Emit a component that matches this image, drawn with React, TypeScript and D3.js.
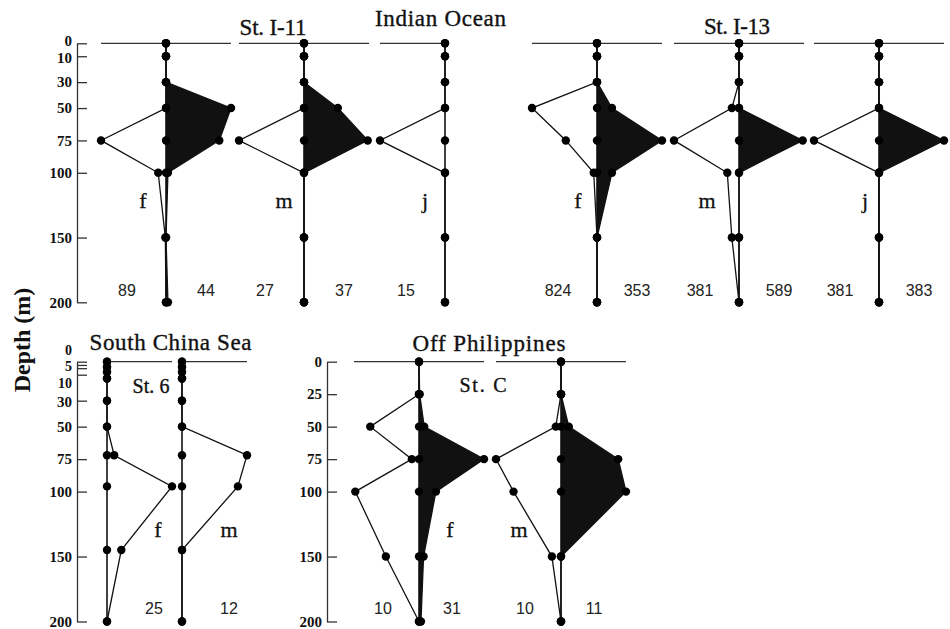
import React, { useRef, useEffect } from "react";
import * as d3 from "d3";

// sampling depths (m)
const indianDepths = [0, 10, 30, 50, 75, 100, 150, 200];
const scsDepths = [0, 4, 8, 13, 30, 50, 72, 96, 145, 200];
const philDepths = [0, 25, 50, 75, 100, 150, 200];

// depth axis ticks
const indianTicks = [0, 10, 30, 50, 75, 100, 150, 200];
const scsTicks = [0, 2.5, 5, 10, 30, 50, 75, 100, 150, 200];
const scsTickLabels = ["0", "", "5", "10", "30", "50", "75", "100", "150", "200"];
const philTicks = [0, 25, 50, 75, 100, 150, 200];

// relative abundance at each depth (% of profile maximum)
// left = open profile, right = filled profile
const i11fLeft = [0, 0, 0, 0, 100, 12, 1, 0];
const i11fRight = [0, 0, 0, 100, 82, 3, 0, 3];
const i11mLeft = [0, 0, 0, 0, 100, 0, 0, 0];
const i11mRight = [0, 0, 0, 52, 98, 0, 0, 0];
const i11jLeft = [0, 0, 0, 0, 100, 0, 0, 0];

const i13fLeft = [0, 0, 0, 100, 48, 5, 0, 0];
const i13fRight = [0, 0, 0, 23, 100, 23, 0, 0];
const i13mLeft = [0, 0, 0, 11, 100, 18, 11, 0];
const i13mRight = [0, 0, 0, 0, 98, 0, 0, 0];
const i13jLeft = [0, 0, 0, 0, 100, 0, 0, 0];
const i13jRight = [0, 0, 0, 0, 100, 0, 0, 0];

const scsfRight = [0, 0, 0, 0, 0, 0, 11, 100, 22, 0];
const scsmRight = [0, 0, 0, 0, 0, 0, 100, 86, 0, 0];

const opfLeft = [0, 0, 75, 11, 98, 51, 0];
const opfRight = [0, 1, 8, 100, 26, 7, 3];
const opmLeft = [0, 0, 8, 100, 73, 14, 0];
const opmRight = [0, 0, 12, 88, 100, 0, 0];

// stage letters and numbers of individuals
const indianStages = ["f", "m", "j", "f", "m", "j"];
const indianLeftN = ["89", "27", "15", "824", "381", "381"];
const indianRightN = ["44", "37", "", "353", "589", "383"];
const scsStages = ["f", "m"];
const scsRightN = ["25", "12"];
const philStages = ["f", "m"];
const philLeftN = ["10", "10"];
const philRightN = ["31", "11"];

const App = () => {
  const svgRef = useRef<SVGSVGElement>(null);

  useEffect(() => {
    const svg = d3.select(svgRef.current);
    svg.selectAll("*").remove();

    const serif = "'Liberation Serif', 'Times New Roman', serif";
    const sans = "'Liberation Sans', Arial, sans-serif";
    const half = 65;
    const w = d3.scaleLinear().domain([0, 100]).range([0, half]);

    const yTop = d3.scaleLinear().domain([0, 200]).range([43.3, 302.3]);
    const yBot = d3.scaleLinear().domain([0, 200]).range([361.7, 621.5]);

    const drawAxis = (x: number, y: any, ticks: number[], labels: string[], nudge: number[], crowded = 0) => {
      const g = svg.append("g")
        .attr("transform", `translate(${x},0)`)
        .call(d3.axisLeft(y).tickValues(ticks)
          .tickFormat((d: any, i: number) => labels[i])
          .tickSizeInner(-10).tickSizeOuter(0).tickPadding(5) as any);
      g.attr("font-family", serif).attr("font-size", 15).attr("font-weight", "bold");
      g.select(".domain").attr("stroke", "#333").attr("stroke-width", 1.3);
      g.selectAll(".tick line").attr("stroke", "#333").attr("stroke-width", 1.3);
      g.selectAll(".tick text").attr("fill", "#111")
        .attr("y", (d: any, i: number) => nudge[i] || 0)
        .attr("font-size", (d: any, i: number) => (i < crowded ? 14 : 15));
    };

    drawAxis(77, yTop, indianTicks, indianTicks.map(String), [-2.5, 1]);
    drawAxis(77, yBot, scsTicks, scsTickLabels, [-11.5, 0, -2, 8, 1.5], 4);
    drawAxis(327, yBot, philTicks, philTicks.map(String), []);

    const drawKite = (
      cx: number, y: any, depths: number[],
      left: number[] | null, right: number[] | null, fillRight: boolean
    ) => {
      const g = svg.append("g");
      // sea surface line
      g.append("line")
        .attr("x1", left ? cx - half : cx).attr("x2", right ? cx + half : cx)
        .attr("y1", y(0)).attr("y2", y(0))
        .attr("stroke", "#333").attr("stroke-width", 1.3);

      if (right && fillRight) {
        const area = d3.area<number>()
          .x0(cx)
          .x1(v => cx + w(v))
          .y((v, i) => y(depths[i]));
        g.append("path").datum(right).attr("d", area).attr("fill", "#111");
      }

      // centre line
      g.append("line")
        .attr("x1", cx).attr("x2", cx)
        .attr("y1", y(0)).attr("y2", y(200))
        .attr("stroke", "#111").attr("stroke-width", 1.6);

      const lineL = d3.line<number>().x(v => cx - w(v)).y((v, i) => y(depths[i]));
      const lineR = d3.line<number>().x(v => cx + w(v)).y((v, i) => y(depths[i]));
      if (left) {
        g.append("path").datum(left).attr("d", lineL)
          .attr("fill", "none").attr("stroke", "#111").attr("stroke-width", 1.3);
      }
      if (right) {
        g.append("path").datum(right).attr("d", lineR)
          .attr("fill", "none").attr("stroke", "#111").attr("stroke-width", 1.3);
      }

      const pts: [number, number][] = depths.map(d => [cx, y(d)]);
      if (left) left.forEach((v, i) => pts.push([cx - w(v), y(depths[i])]));
      if (right) right.forEach((v, i) => pts.push([cx + w(v), y(depths[i])]));
      g.selectAll("circle.dot").data(pts).enter().append("circle")
        .attr("class", "dot")
        .attr("cx", p => p[0]).attr("cy", p => p[1]).attr("r", 4.2)
        .attr("fill", "#000");
    };

    const letter = (x: number, y: number, t: string) =>
      svg.append("text").attr("x", x).attr("y", y).attr("text-anchor", "middle")
        .attr("font-family", serif).attr("font-size", 22).attr("fill", "#111")
        .attr("stroke", "#111").attr("stroke-width", 0.3).text(t);
    const count = (x: number, y: number, t: string) =>
      svg.append("text").attr("x", x).attr("y", y).attr("text-anchor", "middle")
        .attr("font-family", sans).attr("font-size", 16).attr("fill", "#222").text(t);
    const title = (x: number, y: number, t: string, size: number, len: number) =>
      svg.append("text").attr("x", x).attr("y", y).attr("text-anchor", "middle")
        .attr("font-family", serif).attr("font-size", size).attr("fill", "#111")
        .attr("stroke", "#111").attr("stroke-width", 0.35)
        .attr("textLength", len).attr("lengthAdjust", "spacing").text(t);

    // Indian Ocean
    const indianCentres = [166, 304, 445, 597, 739, 879];
    const indianLetterDx = [-23, -20, -20, -19, -32, -14];
    const indianLeft = [i11fLeft, i11mLeft, i11jLeft, i13fLeft, i13mLeft, i13jLeft];
    const indianRight = [i11fRight, i11mRight, null, i13fRight, i13mRight, i13jRight];
    indianCentres.forEach((cx, i) => {
      drawKite(cx, yTop, indianDepths, indianLeft[i], indianRight[i], true);
      letter(cx + indianLetterDx[i], 208, indianStages[i]);
      count(cx - 39, 296, indianLeftN[i]);
      if (indianRightN[i]) count(cx + 40, 296, indianRightN[i]);
    });

    // South China Sea
    const scsCentres = [107, 182];
    const scsLetterDx = [51, 47];
    const scsRight = [scsfRight, scsmRight];
    scsCentres.forEach((cx, i) => {
      drawKite(cx, yBot, scsDepths, null, scsRight[i], false);
      letter(cx + scsLetterDx[i], 537, scsStages[i]);
      count(cx + 47, 614, scsRightN[i]);
    });

    // Off Philippines
    const philCentres = [419, 561];
    const philLetterDx = [31, -42];
    const philLeft = [opfLeft, opmLeft];
    const philRight = [opfRight, opmRight];
    philCentres.forEach((cx, i) => {
      drawKite(cx, yBot, philDepths, philLeft[i], philRight[i], true);
      letter(cx + philLetterDx[i], 537, philStages[i]);
      count(cx - 36, 614, philLeftN[i]);
      count(cx + 33, 614, philRightN[i]);
    });

    title(440.5, 26, "Indian Ocean", 23, 131);
    title(273, 35, "St. I-11", 23, 67);
    title(737, 34, "St. I-13", 23, 66);
    title(170.5, 350, "South China Sea", 23, 162);
    title(489, 351, "Off Philippines", 23, 153);
    title(151, 393, "St. 6", 20, 37);
    title(483, 392, "St. C", 20, 47);

    svg.append("text")
      .attr("transform", "translate(30,340) rotate(-90)")
      .attr("text-anchor", "middle")
      .attr("font-family", serif).attr("font-size", 24).attr("font-weight", "bold")
      .attr("fill", "#111")
      .text("Depth (m)");
  }, []);

  return (
    <svg ref={svgRef} width={950} height={629}
      style={{ position: "absolute", left: 0, top: 0, background: "#fff" }} />
  );
};

export default App;
